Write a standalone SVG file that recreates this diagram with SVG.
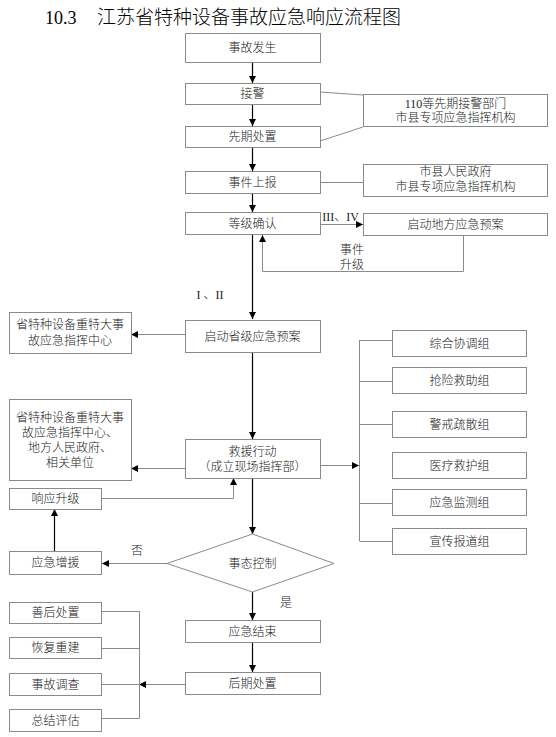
<svg xmlns="http://www.w3.org/2000/svg" width="556" height="737" viewBox="0 0 556 737">
<style>
.b{fill:#fff;stroke:#8a8a8a;stroke-width:1}
.t{font-family:"Liberation Serif","Noto Sans CJK SC",serif;font-size:12px;font-weight:300;fill:#222;text-anchor:middle;dominant-baseline:central}
.k{fill:none;stroke:#000;stroke-width:1.2}
.g{fill:none;stroke:#8a8a8a;stroke-width:1}
.ttl{font-family:"Liberation Serif","Noto Sans CJK SC",serif;font-weight:300;fill:#000}
</style>
<defs>
<marker id="a" markerUnits="userSpaceOnUse" markerWidth="8" markerHeight="8" refX="7" refY="3.5" orient="auto"><path d="M0,0 L7,3.5 L0,7 z" fill="#000"/></marker>
</defs>
<text class="ttl" x="45" y="24" font-size="18">10.3</text>
<text class="ttl" x="97" y="24" font-size="19">江苏省特种设备事故应急响应流程图</text>

<g id="connectors">
<path class="k" d="M252.5,62V83" marker-end="url(#a)"/>
<path class="k" d="M252.5,104V126" marker-end="url(#a)"/>
<path class="k" d="M252.5,147V171" marker-end="url(#a)"/>
<path class="k" d="M252.5,193V212" marker-end="url(#a)"/>
<path class="k" d="M252.5,234V319" marker-end="url(#a)"/>
<path class="k" d="M252.5,352V439" marker-end="url(#a)"/>
<path class="k" d="M252.5,478V534" marker-end="url(#a)"/>
<path class="k" d="M252.5,592V620" marker-end="url(#a)"/>
<path class="k" d="M252.5,642V672" marker-end="url(#a)"/>
<path class="g" d="M320,92L363,95"/>
<path class="g" d="M320,141L363,127"/>
<path class="g" d="M320,182.5H363"/>
<path class="g" d="M320,224.5H363" marker-end="url(#a)"/>
<path class="g" d="M463.5,235V271.5H262.5V235" marker-end="url(#a)"/>
<path class="g" d="M185,334.5H131" marker-end="url(#a)"/>
<path class="g" d="M185,468.5H131" marker-end="url(#a)"/>
<path class="g" d="M102,498.5H233.5V478" marker-end="url(#a)"/>
<path class="k" d="M54.5,551V509" marker-end="url(#a)"/>
<path class="g" d="M167,563.5H102" marker-end="url(#a)"/>
<path class="g" d="M320,465.5H359" marker-end="url(#a)"/>
<path class="g" d="M359.5,340V541M359.5,340.5H392M359.5,381.5H392M359.5,424.5H392M359.5,503.5H392M359.5,541.5H392"/>
<path class="g" d="M185,684.5H139" marker-end="url(#a)"/>
<path class="g" d="M139.5,611V718M102,611.5H139.5M102,648.5H139.5M102,684.5H139.5M102,718.5H139.5"/>
</g>

<g id="n1"><rect class="b" x="185.5" y="33.5" width="135" height="29"/><text class="t" x="252.5" y="48">事故发生</text></g>
<g id="n2"><rect class="b" x="185.5" y="83.5" width="135" height="21"/><text class="t" x="252.5" y="94">接警</text></g>
<g id="n3"><rect class="b" x="185.5" y="126.5" width="135" height="21"/><text class="t" x="252.5" y="137">先期处置</text></g>
<g id="n4"><rect class="b" x="185.5" y="171.5" width="135" height="22"/><text class="t" x="252.5" y="182.5">事件上报</text></g>
<g id="n5"><rect class="b" x="185.5" y="212.5" width="135" height="22"/><text class="t" x="252.5" y="223.5">等级确认</text></g>
<g id="r1"><rect class="b" x="363.5" y="94.5" width="184" height="32"/><text class="t" x="455.5" y="103.5">110等先期接警部门</text><text class="t" x="455.5" y="118">市县专项应急指挥机构</text></g>
<g id="r2"><rect class="b" x="363.5" y="164.5" width="184" height="32"/><text class="t" x="455.5" y="172">市县人民政府</text><text class="t" x="455.5" y="187">市县专项应急指挥机构</text></g>
<g id="r3"><rect class="b" x="363.5" y="213.5" width="184" height="22"/><text class="t" x="455.5" y="224.5">启动地方应急预案</text></g>
<text class="t" x="340.5" y="217">III、IV</text>
<text class="t" x="352" y="250">事件</text>
<text class="t" x="352" y="265">升级</text>
<text class="t" x="210" y="295">I 、II</text>
<g id="n6"><rect class="b" x="185.5" y="320.5" width="135" height="32"/><text class="t" x="252.5" y="336.5">启动省级应急预案</text></g>
<g id="l1"><rect class="b" x="9.5" y="312.5" width="122" height="41"/><text class="t" x="70" y="325">省特种设备重特大事</text><text class="t" x="70" y="341">故应急指挥中心</text></g>
<g id="n7"><rect class="b" x="185.5" y="439.5" width="135" height="39"/><text class="t" x="252.5" y="452">救援行动</text><text class="t" x="252.5" y="467">（成立现场指挥部）</text></g>
<g id="l2"><rect class="b" x="9.5" y="399.5" width="122" height="81"/><text class="t" x="70" y="418">省特种设备重特大事</text><text class="t" x="70" y="433">故应急指挥中心、</text><text class="t" x="70" y="448">地方人民政府、</text><text class="t" x="70" y="463">相关单位</text></g>
<g id="l3"><rect class="b" x="9.5" y="488.5" width="92" height="21"/><text class="t" x="55.5" y="499">响应升级</text></g>
<g id="l4"><rect class="b" x="9.5" y="551.5" width="92" height="23"/><text class="t" x="55.5" y="563">应急增援</text></g>
<g id="g1"><rect class="b" x="392.5" y="330.5" width="134" height="26"/><text class="t" x="459.5" y="343.5">综合协调组</text></g>
<g id="g2"><rect class="b" x="392.5" y="367.5" width="134" height="26"/><text class="t" x="459.5" y="380.5">抢险救助组</text></g>
<g id="g3"><rect class="b" x="392.5" y="411.5" width="134" height="26"/><text class="t" x="459.5" y="424.5">警戒疏散组</text></g>
<g id="g4"><rect class="b" x="392.5" y="452.5" width="134" height="26"/><text class="t" x="459.5" y="465.5">医疗救护组</text></g>
<g id="g5"><rect class="b" x="392.5" y="489.5" width="134" height="26"/><text class="t" x="459.5" y="502.5">应急监测组</text></g>
<g id="g6"><rect class="b" x="392.5" y="528.5" width="134" height="26"/><text class="t" x="459.5" y="541.5">宣传报道组</text></g>
<g id="d1"><path class="b" d="M252.5,534L334,563.5L252.5,592L167,563.5Z"/><text class="t" x="252.5" y="563.5">事态控制</text></g>
<text class="t" x="137" y="551">否</text>
<text class="t" x="286" y="603">是</text>
<g id="n8"><rect class="b" x="185.5" y="620.5" width="135" height="22"/><text class="t" x="252.5" y="631.5">应急结束</text></g>
<g id="n9"><rect class="b" x="185.5" y="672.5" width="135" height="22"/><text class="t" x="252.5" y="683.5">后期处置</text></g>
<g id="p1"><rect class="b" x="9.5" y="602.5" width="92" height="21"/><text class="t" x="55.5" y="613">善后处置</text></g>
<g id="p2"><rect class="b" x="9.5" y="637.5" width="92" height="21"/><text class="t" x="55.5" y="648">恢复重建</text></g>
<g id="p3"><rect class="b" x="9.5" y="673.5" width="92" height="22"/><text class="t" x="55.5" y="684.5">事故调查</text></g>
<g id="p4"><rect class="b" x="9.5" y="709.5" width="92" height="22"/><text class="t" x="55.5" y="720.5">总结评估</text></g>
</svg>
